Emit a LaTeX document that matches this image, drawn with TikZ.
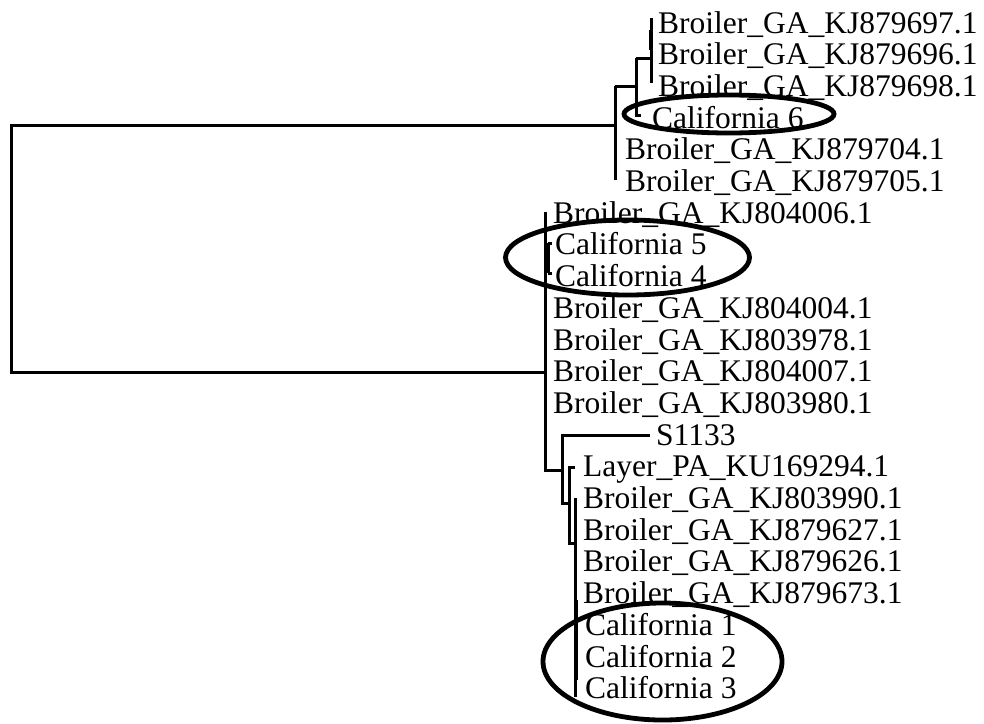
\documentclass[tikz,border=0pt]{standalone}
\usepackage{fontspec}
\setmainfont{Liberation Serif}

\begin{document}
\begin{tikzpicture}[x=1pt,y=-1pt,
  leaf/.style={anchor=base west,inner sep=0pt,font=\fontsize{31.5}{32}\selectfont},
  branch/.style={line width=3pt},
  heavy/.style={line width=4.4pt},
  ring/.style={line width=4.8pt}]
  \useasboundingbox (0,0) rectangle (984,723);

  % Leaf labels, one row each
  \def\rowsep{31.7}
  \foreach \x/\t [count=\i] in {
      658/Broiler\_GA\_KJ879697.1, 658/Broiler\_GA\_KJ879696.1,
      658/Broiler\_GA\_KJ879698.1, 652/California 6,
      625/Broiler\_GA\_KJ879704.1, 625/Broiler\_GA\_KJ879705.1,
      553/Broiler\_GA\_KJ804006.1, 555/California 5, 555/California 4,
      553/Broiler\_GA\_KJ804004.1, 553/Broiler\_GA\_KJ803978.1,
      553/Broiler\_GA\_KJ804007.1, 553/Broiler\_GA\_KJ803980.1,
      656/S1133, 583/Layer\_PA\_KU169294.1,
      583/Broiler\_GA\_KJ803990.1, 583/Broiler\_GA\_KJ879627.1,
      583/Broiler\_GA\_KJ879626.1, 583/Broiler\_GA\_KJ879673.1,
      585/California 1, 585/California 2, 585/California 3}
    \node[leaf] (l\i) at (\x, {33+\rowsep*(\i-1)}) {\t};

  % Internal nodes of the tree
  \coordinate (root) at (11,248);
  \coordinate (cA) at (651,58);
  \coordinate (cB) at (636,86);
  \coordinate (cC) at (615,125);
  \coordinate (cD) at (545,372);
  \coordinate (cE) at (562,470);
  \coordinate (cF) at (569,503);
  \coordinate (cG) at (575,543);

  % Root split
  \draw[branch] (cC) -| (root) |- (cD);

  % Upper clade
  \draw[branch] (615,86) -- (615,180);
  \draw[branch] (615,86) -- (cB);
  \draw[branch] (636,58) -- (636,115) -- (641,115);
  \draw[branch] (636,58) -- (cA);
  \draw[branch] (651,18) -- (651,83);
  \draw[heavy] (651,30) -- (651,50);

  % Lower clade
  \draw[branch] (545,212) -- (545,470) -- (cE);
  \draw[heavy] (548,243) -- (548,273);
  \draw[branch] (548,243) -- (552,243);
  \draw[branch] (548,273) -- (552,273);
  \draw[branch] (650,435) -- (562,435) -- (562,503) -- (cF);
  \draw[branch] (575,467) -- (569,467) -- (569,543) -- (cG);
  \draw[branch] (575,498) -- (575,697);
  \draw[heavy] (576,600) -- (576,680);

  % Rings round the California isolates
  \draw[ring] (729,114) ellipse [x radius=105pt, y radius=19pt];
  \draw[ring] (627.5,257.5) ellipse [x radius=122pt, y radius=37.5pt];
  \draw[ring] (662.5,661.5) ellipse [x radius=119.5pt, y radius=58.5pt];
\end{tikzpicture}
\end{document}
